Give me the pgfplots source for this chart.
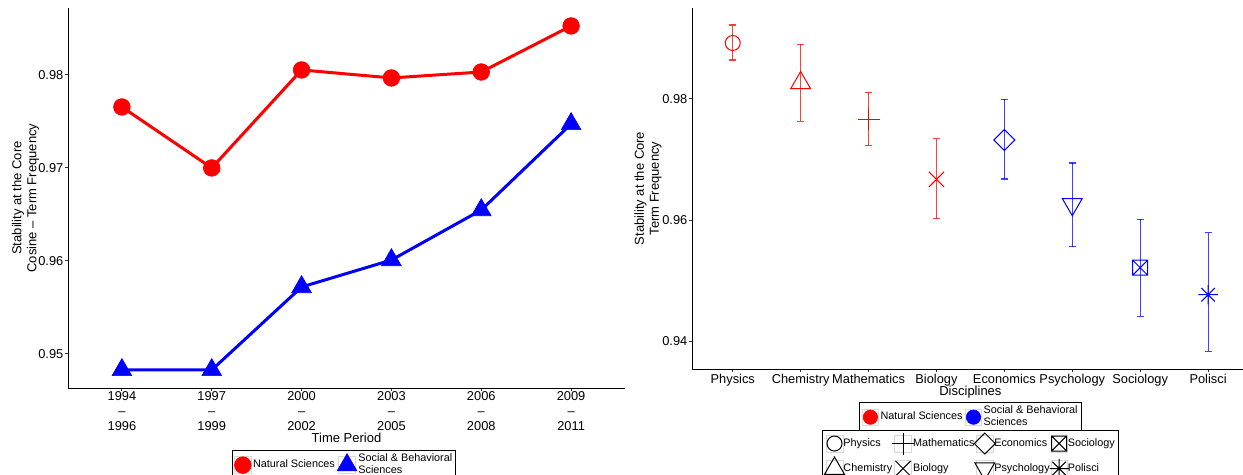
\documentclass[border=0pt]{standalone}
\usepackage{fontspec}
\setmainfont{Liberation Sans}
\usepackage{pgfplots}
\pgfplotsset{compat=1.18}

% square with a cross inside
\pgfdeclareplotmark{boxtimes}{%
  \pgfpathrectangle{\pgfqpoint{-\pgfplotmarksize}{-\pgfplotmarksize}}{\pgfqpoint{2\pgfplotmarksize}{2\pgfplotmarksize}}%
  \pgfpathmoveto{\pgfqpoint{-\pgfplotmarksize}{-\pgfplotmarksize}}%
  \pgfpathlineto{\pgfqpoint{\pgfplotmarksize}{\pgfplotmarksize}}%
  \pgfpathmoveto{\pgfqpoint{-\pgfplotmarksize}{\pgfplotmarksize}}%
  \pgfpathlineto{\pgfqpoint{\pgfplotmarksize}{-\pgfplotmarksize}}%
  \pgfusepathqstroke}
% eight-spoke asterisk (plus and times)
\pgfdeclareplotmark{plustimes}{%
  \pgfpathmoveto{\pgfqpoint{-\pgfplotmarksize}{0pt}}%
  \pgfpathlineto{\pgfqpoint{\pgfplotmarksize}{0pt}}%
  \pgfpathmoveto{\pgfqpoint{0pt}{-\pgfplotmarksize}}%
  \pgfpathlineto{\pgfqpoint{0pt}{\pgfplotmarksize}}%
  \pgfpathmoveto{\pgfqpoint{-.7\pgfplotmarksize}{-.7\pgfplotmarksize}}%
  \pgfpathlineto{\pgfqpoint{.7\pgfplotmarksize}{.7\pgfplotmarksize}}%
  \pgfpathmoveto{\pgfqpoint{-.7\pgfplotmarksize}{.7\pgfplotmarksize}}%
  \pgfpathlineto{\pgfqpoint{.7\pgfplotmarksize}{-.7\pgfplotmarksize}}%
  \pgfusepathqstroke}

\pgfplotsset{
  ggbase/.style={
    scale only axis,
    axis x line*=bottom, axis y line*=left,
    axis line style={black, line width=0.6pt},
    tick style={black!80, line width=0.6pt},
    tick align=outside, major tick length=2pt,
    tick label style={font=\fontsize{7.7}{9}\selectfont},
    yticklabel style={xshift=2.7pt},
    xticklabel style={yshift=2.4pt},
    label style={font=\fontsize{7.8}{9}\selectfont},
    /pgf/number format/assume math mode=true,
    legend style={draw=black, line width=0.6pt, fill=white,
      font=\fontsize{6.5}{7.2}\selectfont, inner sep=1.2pt,
      nodes={inner sep=0.9pt},
      cells={align=left}, row sep=0pt,
      /tikz/every odd column/.style={column sep=0pt},
      /tikz/every even column/.style={column sep=0.5pt}},
    legend cell align=left,
    legend image code/.code={%
      \draw[gray!30, line width=0.4pt, fill=white] (-5pt,-5pt) rectangle (5pt,5pt);
      \draw[##1] plot coordinates {(0pt,0pt)};},
  },
  ebar/.style={only marks, forget plot, line width=0.6pt,
    error bars/y dir=both, error bars/y explicit,
    error bars/error bar style={line width=0.7pt, opacity=0.75},
    error bars/error mark options={rotate=90, mark size=2.1pt, line width=0.7pt, opacity=0.75}},
}

\begin{document}
\begin{tikzpicture}
\useasboundingbox (0,0) rectangle (745.8pt,284.4pt);

% ---------- stability over time ----------
\begin{axis}[ggbase,
  at={(40.8pt,51.6pt)}, anchor=south west,
  width=334.2pt, height=228pt,
  xmin=0.4, xmax=6.6, ymin=0.94634, ymax=0.98720,
  xtick={1,2,3,4,5,6},
  xticklabels={{1994\\--\\1996},{1997\\--\\1999},{2000\\--\\2002},{2003\\--\\2005},{2006\\--\\2008},{2009\\--\\2011}},
  xticklabel style={align=center, yshift=1.2pt},
  ytick={0.95,0.96,0.97,0.98},
  yticklabels={0.95,0.96,0.97,0.98},
  xlabel={Time Period},
  xlabel style={at={(axis description cs:0.5,-0.1316)}, anchor=center},
  ylabel={Stability at the Core\\Cosine -- Term Frequency},
  ylabel style={align=center, at={(axis description cs:-0.0763,0.5)}, anchor=center},
  legend columns=2,
  legend style={at={(axis description cs:0.4955,-0.163)}, anchor=north},
  clip=false,
]
\addplot[red, line width=1.8pt, mark=*, mark size=5pt, mark options={line width=0.4pt}]
  coordinates {(1,0.97656) (2,0.97000) (3,0.98054) (4,0.97968) (5,0.98032) (6,0.98527)};
\addlegendentry{Natural Sciences}
\addplot[blue, line width=1.8pt, mark=triangle*, mark size=6.8pt, mark options={line width=0.4pt}]
  coordinates {(1,0.94828) (2,0.94828) (3,0.95720) (4,0.96010) (5,0.96548) (6,0.97473)};
\addlegendentry{Social \& Behavioral\\Sciences}
\end{axis}

% ---------- stability by discipline ----------
\begin{axis}[ggbase,
  at={(415.2pt,63pt)}, anchor=south west,
  width=334.1pt, height=216.6pt,
  xmin=0.4, xmax=8.6, ymin=0.935372, ymax=0.995041,
  xtick={1,...,8},
  xticklabels={Physics,Chemistry,Mathematics,Biology,Economics,Psychology,Sociology,Polisci},
  ytick={0.94,0.96,0.98},
  yticklabels={0.94,0.96,0.98},
  xlabel={Disciplines},
  xlabel style={at={(axis description cs:0.5,-0.0637)}, anchor=center},
  ylabel={Stability at the Core\\Term Frequency},
  ylabel style={align=center, at={(axis description cs:-0.079,0.5)}, anchor=center},
  legend columns=2,
  legend style={at={(axis description cs:0.5,-0.0914)}, anchor=north},
  clip=false,
]
\addlegendimage{red, mark=*, mark size=4.3pt, line width=0.4pt}
\addlegendentry{Natural Sciences}
\addlegendimage{blue, mark=*, mark size=4.3pt, line width=0.4pt}
\addlegendentry{Social \& Behavioral\\Sciences}

\addplot[red, ebar, mark=o, mark size=4.5pt]
  coordinates {(1,0.98926) += (0,0.00297) -= (0,0.00281)};
\addplot[red, ebar, mark=triangle, mark size=6.9pt]
  coordinates {(2,0.98265) += (0,0.00639) -= (0,0.00634)};
\addplot[red, ebar, mark=+, mark size=6.6pt]
  coordinates {(3,0.97669) += (0,0.00442) -= (0,0.00441)};
\addplot[red, ebar, mark=x, mark size=6.4pt]
  coordinates {(4,0.96672) += (0,0.00672) -= (0,0.00651)};
\addplot[blue, ebar, mark=square, mark size=4.45pt, mark options={rotate=45}]
  coordinates {(5,0.97322) += (0,0.00673) -= (0,0.00644)};
\addplot[blue, ebar, mark=triangle, mark size=6.9pt, mark options={rotate=180}]
  coordinates {(6,0.96260) += (0,0.00682) -= (0,0.00701)};
\addplot[blue, ebar, mark=boxtimes, mark size=4.5pt]
  coordinates {(7,0.95212) += (0,0.00800) -= (0,0.00804)};
\addplot[blue, ebar, mark=plustimes, mark size=5.8pt]
  coordinates {(8,0.94765) += (0,0.01025) -= (0,0.00936)};
\end{axis}

% discipline shape legend
\begin{axis}[ggbase, hide axis,
  at={(415.2pt,63pt)}, anchor=south west,
  width=334.1pt, height=216.6pt,
  xmin=0, xmax=1, ymin=0, ymax=1,
  legend columns=4,
  legend style={at={(axis description cs:0.5,-0.169)}, anchor=north, row sep=1.5pt,
    /tikz/every odd column/.style={column sep=-1.5pt},
    /tikz/every even column/.style={column sep=-1pt}},
]
\addlegendimage{black, mark=o, mark size=4.5pt, line width=0.6pt}
\addlegendentry{Physics}
\addlegendimage{black, mark=+, mark size=6.6pt, line width=0.6pt}
\addlegendentry{Mathematics}
\addlegendimage{black, mark=square, mark size=4.45pt, mark options={rotate=45}, line width=0.6pt}
\addlegendentry{Economics}
\addlegendimage{black, mark=boxtimes, mark size=4.5pt, line width=0.6pt}
\addlegendentry{Sociology}
\addlegendimage{black, mark=triangle, mark size=6.9pt, line width=0.6pt}
\addlegendentry{Chemistry}
\addlegendimage{black, mark=x, mark size=6.4pt, line width=0.6pt}
\addlegendentry{Biology}
\addlegendimage{black, mark=triangle, mark size=6.9pt, mark options={rotate=180}, line width=0.6pt}
\addlegendentry{Psychology}
\addlegendimage{black, mark=plustimes, mark size=5.8pt, line width=0.6pt}
\addlegendentry{Polisci}
\end{axis}
\end{tikzpicture}
\end{document}
